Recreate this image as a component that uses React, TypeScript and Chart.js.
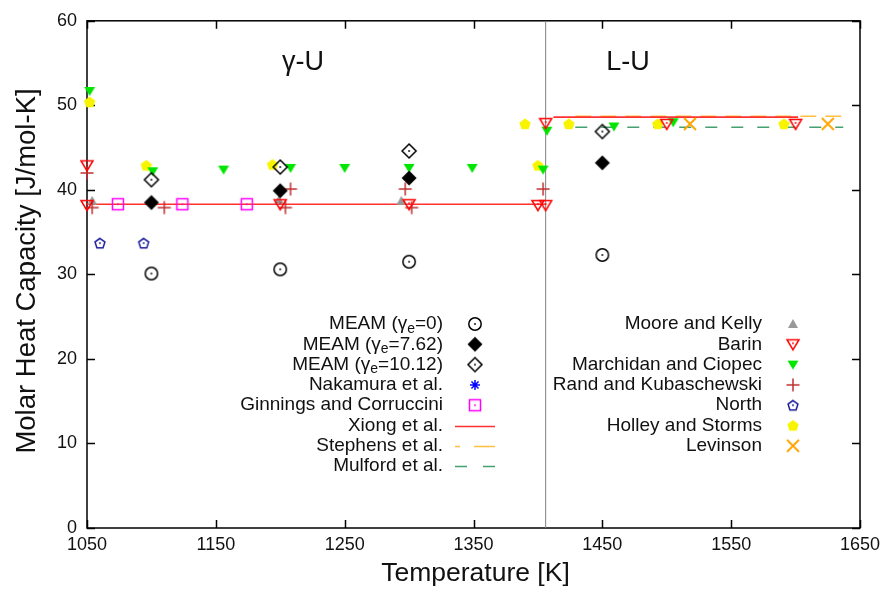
import React, { useEffect, useRef } from "react";
import { Chart, registerables } from "chart.js";
Chart.register(...registerables);

const FONT = "'Liberation Sans', Arial, Helvetica, sans-serif";

// ---- tick values ----
const xTicks = [1050, 1150, 1250, 1350, 1450, 1550, 1650];
const yTicks = [0, 10, 20, 30, 40, 50, 60];

// ---- series: [Temperature K, Cp J/mol-K] ----
const meam0 = [[1100, 30.1], [1200, 30.6], [1300, 31.5], [1450, 32.3]];
const meam762 = [[1100, 38.5], [1200, 39.9], [1300, 41.4], [1450, 43.2]];
const meam1012 = [[1100, 41.2], [1200, 42.7], [1300, 44.6], [1450, 46.9]];
const nakamura: number[][] = [];
const ginnings = [[1074, 38.3], [1124, 38.3], [1174, 38.3]];
const xiongSolid = [[1050, 38.3], [1406, 38.3]];
const xiongLiquid = [[1412, 48.6], [1602, 48.6]];
const stephens = [[1429, 48.7], [1642, 48.7]];
const mulford = [[1429, 47.4], [1637, 47.4]];
const mooreKelly = [[1054, 38.7], [1199, 38.8], [1294, 38.7]];
const barin = [[1050, 42.9], [1050, 38.2], [1200, 38.3], [1300, 38.3], [1400, 38.2], [1406, 38.2], [1406, 47.9], [1500, 47.8], [1600, 47.8]];
const marchidan = [[1052, 51.7], [1101, 42.2], [1156, 42.4], [1208, 42.6], [1250, 42.6], [1300, 42.6], [1349, 42.6], [1404, 42.4], [1407, 47.0], [1459, 47.5], [1505, 48.0]];
const rand = [[1050, 42.0], [1054, 37.9], [1110, 37.9], [1204, 37.9], [1208, 40.1], [1297, 40.1], [1302, 37.9], [1404, 40.1]];
const north = [[1060, 33.7], [1094, 33.7]];
const holley = [[1052, 50.4], [1096, 42.9], [1194, 43.0], [1390, 47.8], [1400, 42.9], [1424, 47.8], [1493, 47.8], [1591, 47.8]];
const levinson = [[1518, 47.8], [1625, 47.8]];
const transitionT = 1406;

// ---- labels ----
const leftLegendLabels: string[][] = [
  ["MEAM (\u03b3", "e", "=0)"],
  ["MEAM (\u03b3", "e", "=7.62)"],
  ["MEAM (\u03b3", "e", "=10.12)"],
  ["Nakamura et al."],
  ["Ginnings and Corruccini"],
  ["Xiong et al."],
  ["Stephens et al."],
  ["Mulford et al."],
];
const rightLegendLabels = [
  "Moore and Kelly",
  "Barin",
  "Marchidan and Ciopec",
  "Rand and Kubaschewski",
  "North",
  "Holley and Storms",
  "Levinson",
];
const phaseLabels = ["\u03b3-U", "L-U"];
const xTitle = "Temperature [K]";
const yTitle = "Molar Heat Capacity [J/mol-K]";

const COLORS = {
  meam: "#000000",
  nakamura: "#0000ff",
  ginnings: "#ff00ff",
  xiong: "#ff3030",
  stephens: "#ffc040",
  mulford: "#45a070",
  moore: "#999999",
  barin: "#ff0000",
  marchidan: "#00e600",
  rand: "#c03030",
  north: "#1a1a9a",
  holley: "#f8f400",
  levinson: "#ffa500",
};

function marker(kind: string, color: string): HTMLCanvasElement {
  const c = document.createElement("canvas");
  c.width = 18;
  c.height = 18;
  const g = c.getContext("2d")!;
  const m = 9;
  g.strokeStyle = color;
  g.fillStyle = color;
  g.lineWidth = 1.5;
  const dot = () => {
    g.beginPath();
    g.arc(m, m, 0.9, 0, Math.PI * 2);
    g.fill();
  };
  const poly = (pts: number[][]) => {
    g.beginPath();
    pts.forEach(([a, b], i) => (i ? g.lineTo(a, b) : g.moveTo(a, b)));
    g.closePath();
  };
  const pent = (r: number) => {
    const pts: number[][] = [];
    for (let i = 0; i < 5; i++) {
      const a = -Math.PI / 2 + (i * 2 * Math.PI) / 5;
      pts.push([m + r * Math.cos(a), m + 0.5 + r * Math.sin(a)]);
    }
    poly(pts);
  };
  switch (kind) {
    case "circle":
      g.beginPath();
      g.arc(m, m, 6.2, 0, Math.PI * 2);
      g.stroke();
      dot();
      break;
    case "diamondFilled":
      poly([[m, m - 7.5], [m + 7.5, m], [m, m + 7.5], [m - 7.5, m]]);
      g.fill();
      break;
    case "diamond":
      poly([[m, m - 7], [m + 7, m], [m, m + 7], [m - 7, m]]);
      g.stroke();
      dot();
      break;
    case "asterisk":
      g.beginPath();
      for (let i = 0; i < 4; i++) {
        const a = (i * Math.PI) / 4;
        g.moveTo(m - 5 * Math.cos(a), m - 5 * Math.sin(a));
        g.lineTo(m + 5 * Math.cos(a), m + 5 * Math.sin(a));
      }
      g.stroke();
      break;
    case "square":
      g.strokeRect(m - 5.5, m - 5.5, 11, 11);
      dot();
      break;
    case "triDownOpen":
      poly([[m - 6, m - 4.5], [m + 6, m - 4.5], [m, m + 5.5]]);
      g.stroke();
      g.beginPath();
      g.arc(m, m - 1, 0.9, 0, Math.PI * 2);
      g.fill();
      break;
    case "triDownFilled":
      poly([[m - 5.5, m - 4], [m + 5.5, m - 4], [m, m + 5]]);
      g.fill();
      break;
    case "triUpFilled":
      poly([[m - 5, m + 4], [m + 5, m + 4], [m, m - 5]]);
      g.fill();
      break;
    case "plus":
      g.beginPath();
      g.moveTo(m - 6.5, m);
      g.lineTo(m + 6.5, m);
      g.moveTo(m, m - 6.5);
      g.lineTo(m, m + 6.5);
      g.stroke();
      break;
    case "pentagonOpen":
      pent(5.2);
      g.stroke();
      dot();
      break;
    case "pentagonFilled":
      pent(6);
      g.fill();
      break;
    case "x":
      g.lineWidth = 1.9;
      g.beginPath();
      g.moveTo(m - 6, m - 6);
      g.lineTo(m + 6, m + 6);
      g.moveTo(m + 6, m - 6);
      g.lineTo(m - 6, m + 6);
      g.stroke();
      break;
  }
  return c;
}

const toXY = (arr: number[][]) => arr.map(([x, y]) => ({ x, y }));

export default function App() {
  const ref = useRef<HTMLCanvasElement>(null);

  useEffect(() => {
    if (!ref.current) return;
    const M = {
      meam0: marker("circle", COLORS.meam),
      meam762: marker("diamondFilled", COLORS.meam),
      meam1012: marker("diamond", COLORS.meam),
      nakamura: marker("asterisk", COLORS.nakamura),
      ginnings: marker("square", COLORS.ginnings),
      moore: marker("triUpFilled", COLORS.moore),
      barin: marker("triDownOpen", COLORS.barin),
      marchidan: marker("triDownFilled", COLORS.marchidan),
      rand: marker("plus", COLORS.rand),
      north: marker("pentagonOpen", COLORS.north),
      holley: marker("pentagonFilled", COLORS.holley),
      levinson: marker("x", COLORS.levinson),
    };

    const pts = (label: string, data: number[][], style: HTMLCanvasElement, order: number) => ({
      label,
      data: toXY(data),
      pointStyle: style,
      pointRadius: 6,
      showLine: false,
      clip: false as any,
      order,
    });
    const line = (label: string, data: number[][], color: string, dash: number[], order: number, width = 1.6) => ({
      label,
      data: toXY(data),
      showLine: true,
      borderColor: color,
      borderWidth: width,
      borderDash: dash,
      pointRadius: 0,
      order,
    });

    const stephensDash = [16, 9];
    const mulfordDash = [12, 14];
    const leftMarkers = [M.meam0, M.meam762, M.meam1012, M.nakamura, M.ginnings];
    const rightMarkers = [M.moore, M.barin, M.marchidan, M.rand, M.north, M.holley, M.levinson];
    const leftLines = [
      { color: COLORS.xiong, dash: [] as number[] },
      { color: COLORS.stephens, dash: [5, 14, 40, 0] },
      { color: COLORS.mulford, dash: [12, 16] },
    ];

    const decor = {
      id: "decor",
      beforeDatasetsDraw(chart: any) {
        const { ctx, chartArea, scales } = chart;
        const { left, right, top, bottom } = chartArea;
        ctx.save();
        ctx.strokeStyle = "#000";
        ctx.lineWidth = 1.5;
        ctx.strokeRect(left, top, right - left, bottom - top);
        ctx.beginPath();
        xTicks.forEach((v) => {
          const p = Math.round(scales.x.getPixelForValue(v)) + 0.5;
          ctx.moveTo(p, bottom);
          ctx.lineTo(p, bottom - 8);
          ctx.moveTo(p, top);
          ctx.lineTo(p, top + 8);
        });
        yTicks.forEach((v) => {
          const p = Math.round(scales.y.getPixelForValue(v)) + 0.5;
          ctx.moveTo(left, p);
          ctx.lineTo(left + 8, p);
          ctx.moveTo(right, p);
          ctx.lineTo(right - 8, p);
        });
        ctx.stroke();
        ctx.restore();
      },
      afterDraw(chart: any) {
        const { ctx, chartArea } = chart;
        ctx.save();
        ctx.fillStyle = "#111";
        // phase labels
        ctx.font = `27px ${FONT}`;
        ctx.textAlign = "center";
        ctx.textBaseline = "alphabetic";
        ctx.fillText(phaseLabels[0], 303, 70);
        ctx.fillText(phaseLabels[1], 628, 70);
        // axis titles
        ctx.font = `26.5px ${FONT}`;
        ctx.fillText(xTitle, (chartArea.left + chartArea.right) / 2 + 2, 581);
        ctx.save();
        ctx.font = `27.5px ${FONT}`;
        ctx.translate(35, 271);
        ctx.rotate(-Math.PI / 2);
        ctx.fillText(yTitle, 0, 0);
        ctx.restore();

        // legends
        const rowH = 20.3;
        const y0 = 324;
        const big = `19px ${FONT}`;
        const small = `14px ${FONT}`;
        ctx.textBaseline = "middle";
        ctx.textAlign = "left";
        const drawLabel = (parts: string[], xr: number, y: number) => {
          ctx.font = big;
          const w1 = ctx.measureText(parts[0]).width;
          let w2 = 0;
          let w3 = 0;
          if (parts.length > 1) {
            ctx.font = small;
            w2 = ctx.measureText(parts[1]).width;
            ctx.font = big;
            w3 = ctx.measureText(parts[2]).width;
          }
          const x = xr - (w1 + w2 + w3);
          ctx.font = big;
          ctx.fillText(parts[0], x, y);
          if (parts.length > 1) {
            ctx.font = small;
            ctx.fillText(parts[1], x + w1, y + 5);
            ctx.font = big;
            ctx.fillText(parts[2], x + w1 + w2, y);
          }
        };
        leftLegendLabels.forEach((parts, i) => {
          const y = y0 + i * rowH;
          drawLabel(parts, 443, y);
          if (i < leftMarkers.length) {
            const mk = leftMarkers[i];
            ctx.drawImage(mk, 475 - mk.width / 2, y - mk.height / 2);
          } else {
            const L = leftLines[i - leftMarkers.length];
            ctx.save();
            ctx.strokeStyle = L.color;
            ctx.lineWidth = 1.6;
            ctx.setLineDash(L.dash);
            ctx.beginPath();
            ctx.moveTo(455, Math.round(y) + 0.5);
            ctx.lineTo(495, Math.round(y) + 0.5);
            ctx.stroke();
            ctx.restore();
          }
        });
        rightLegendLabels.forEach((label, i) => {
          const y = y0 + i * rowH;
          drawLabel([label], 762, y);
          const mk = rightMarkers[i];
          ctx.drawImage(mk, 793 - mk.width / 2, y - mk.height / 2);
        });
        ctx.restore();
      },
    };

    const chart = new Chart(ref.current, {
      type: "scatter",
      data: {
        datasets: [
          pts("MEAM (γe=0)", meam0, M.meam0, 0),
          pts("MEAM (γe=7.62)", meam762, M.meam762, 0),
          pts("MEAM (γe=10.12)", meam1012, M.meam1012, 0),
          pts("Nakamura et al.", nakamura, M.nakamura, 1),
          pts("Ginnings and Corruccini", ginnings, M.ginnings, 1),
          pts("Moore and Kelly", mooreKelly, M.moore, 2),
          pts("Barin", barin, M.barin, 1),
          pts("Marchidan and Ciopec", marchidan, M.marchidan, 1),
          pts("Rand and Kubaschewski", rand, M.rand, 1),
          pts("North", north, M.north, 1),
          pts("Holley and Storms", holley, M.holley, 2),
          pts("Levinson", levinson, M.levinson, 1),
          line("Xiong et al.", xiongSolid, COLORS.xiong, [], 5),
          line("Xiong et al. (L)", xiongLiquid, COLORS.xiong, [], 5),
          line("Stephens et al.", stephens, COLORS.stephens, stephensDash, 6),
          line("Mulford et al.", mulford, COLORS.mulford, mulfordDash, 6),
          line("transition", [[transitionT, 0], [transitionT, 60]], "#808080", [], 8, 1),
        ] as any,
      },
      options: {
        animation: false,
        responsive: false,
        events: [],
        layout: { padding: { top: 16, right: 29, left: 0, bottom: 0 } },
        plugins: { legend: { display: false }, tooltip: { enabled: false }, title: { display: false } },
        scales: {
          x: {
            type: "linear",
            min: 1050,
            max: 1650,
            afterBuildTicks: (s: any) => {
              s.ticks = xTicks.map((v) => ({ value: v }));
            },
            afterFit: (s: any) => {
              s.height = 63;
            },
            grid: { display: false, drawTicks: false },
            border: { display: false },
            ticks: {
              color: "#111",
              font: { family: FONT, size: 18 },
              padding: 6,
              maxRotation: 0,
              autoSkip: false,
              callback: (v: any) => String(v),
            },
          },
          y: {
            type: "linear",
            min: 0,
            max: 60,
            afterBuildTicks: (s: any) => {
              s.ticks = yTicks.map((v) => ({ value: v }));
            },
            afterFit: (s: any) => {
              s.width = 87;
            },
            grid: { display: false, drawTicks: false },
            border: { display: false },
            ticks: {
              color: "#111",
              font: { family: FONT, size: 18 },
              padding: 10,
              autoSkip: false,
              callback: (v: any) => String(v),
            },
          },
        },
      } as any,
      plugins: [decor],
    });
    return () => chart.destroy();
  }, []);

  return (
    <div style={{ position: "absolute", left: 0, top: 0, width: 889, height: 591, background: "#fff" }}>
      <canvas ref={ref} width={889} height={591} style={{ width: 889, height: 591 }} />
    </div>
  );
}
